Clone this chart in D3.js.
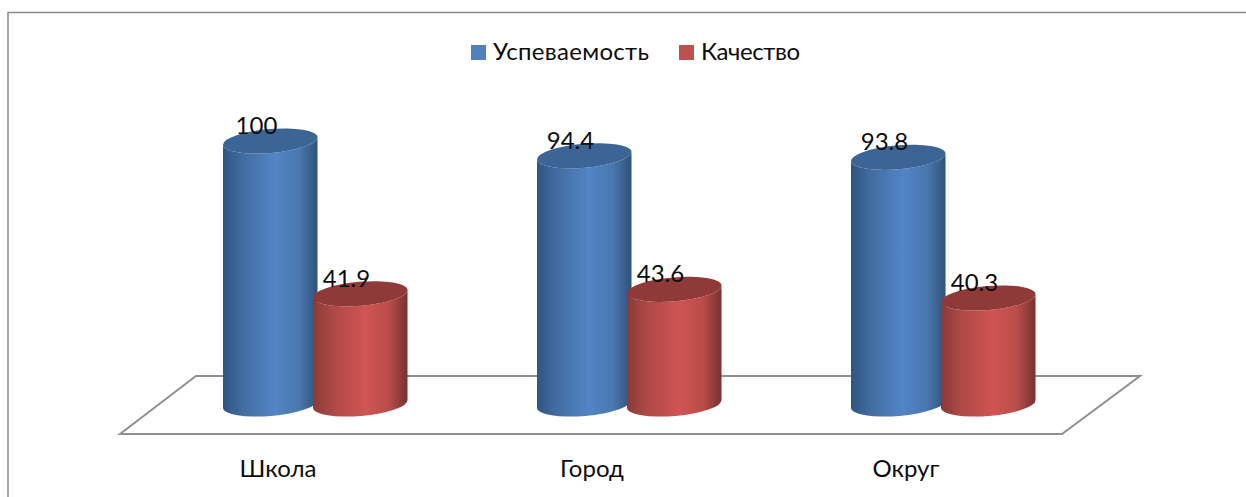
<!DOCTYPE html>
<html>
<head>
<meta charset="utf-8">
<script src="https://cdn.jsdelivr.net/npm/d3@7"></script>
<style>
  html, body { margin: 0; padding: 0; background: #fff; }
  svg { display: block; }
  text { font-family: Lato, "Open Sans", sans-serif; fill: #0c0c0c; }
</style>
</head>
<body>
<svg id="chart" width="1246" height="497"></svg>
<script>
const categories = ['Школа', 'Город', 'Округ'];
const seriesNames = ['Успеваемость', 'Качество'];
const uspevaemost = [100, 94.4, 93.8];
const kachestvo = [41.9, 43.6, 40.3];

const colors = [
  { legend: '#4f81bd', top: '#3a6595', stops: ['#2e5582', '#426c9f', '#5285c6', '#4a78ae', '#2f527c'] },
  { legend: '#c0504d', top: '#8f3a38', stops: ['#8a3a38', '#ac4846', '#d05452', '#ba4d4a', '#773230'] }
];
const stopOffsets = ['0%', '20%', '55%', '80%', '100%'];

const width = 1246;
const height = 497;
const svg = d3.select('#chart');

// horizontal shading of the cylinder walls
const defs = svg.append('defs');
colors.forEach((c, i) => {
  const grad = defs.append('linearGradient').attr('id', `wall${i}`);
  c.stops.forEach((col, k) => {
    grad.append('stop').attr('offset', stopOffsets[k]).attr('stop-color', col);
  });
});

// chart frame, runs off the right and bottom of the picture
svg.append('path')
  .attr('d', `M8,${height}V12.5H${width}`)
  .attr('fill', 'none')
  .attr('stroke', '#8a8a8a')
  .attr('stroke-width', 1.5);

// scales
const x = d3.scalePoint().domain(categories).range([223, 851]);
const xSeries = d3.scalePoint().domain(seriesNames).range([0, 90]);
const h = d3.scaleLinear().domain([0, 100]).range([0, 263]);
const baseY = 408; // left end of the bottom ellipse
const barW = 94.5;
const tilt = 8;
const rx = Math.hypot(barW, tilt) / 2;
const ry = 12;
const rot = -4.8;

// floor
const floor = d3.line();
svg.append('path')
  .attr('d', floor([[120, 434], [196, 376], [1140, 376], [1062, 434]]) + 'Z')
  .attr('fill', '#fff')
  .attr('stroke', '#8f8f8f')
  .attr('stroke-width', 2);

const rows = seriesNames.flatMap((name, s) =>
  categories.map((cat, i) => ({
    cat,
    name,
    s,
    value: (s === 0 ? uspevaemost : kachestvo)[i]
  }))
);

// blue first, the red cylinders overlap them
const bars = svg.selectAll('g.bar').data(rows).join('g').attr('class', 'bar');

const left = d => x(d.cat) + xSeries(d.name);
const topY = d => baseY - h(d.value);

bars.append('path')
  .attr('fill', d => `url(#wall${d.s})`)
  .attr('d', d => {
    const l = left(d), r = l + barW, t = topY(d);
    return `M${l},${t}L${l},${baseY}A${rx},${ry} ${rot} 0 0 ${r},${baseY - tilt}` +
      `L${r},${t - tilt}A${rx},${ry} ${rot} 0 1 ${l},${t}Z`;
  });

bars.append('path')
  .attr('fill', d => colors[d.s].top)
  .attr('d', d => {
    const l = left(d), r = l + barW, t = topY(d);
    return `M${l},${t}A${rx},${ry} ${rot} 0 1 ${r},${t - tilt}A${rx},${ry} ${rot} 0 1 ${l},${t}Z`;
  });

// value labels
svg.selectAll('text.value').data(rows).join('text')
  .attr('class', 'value')
  .attr('x', d => left(d) + 33.5)
  .attr('y', d => topY(d) - 11)
  .attr('text-anchor', 'middle')
  .attr('font-size', 24)
  .text(d => d.value);

// category labels
svg.selectAll('text.cat').data(categories).join('text')
  .attr('class', 'cat')
  .attr('x', d => x(d) + 55)
  .attr('y', 477)
  .attr('text-anchor', 'middle')
  .attr('font-size', 24)
  .text(d => d);

// legend
const legendX = d3.scaleOrdinal().domain(seriesNames).range([471, 679]);
const legend = svg.selectAll('g.legend').data(seriesNames).join('g')
  .attr('class', 'legend')
  .attr('transform', d => `translate(${legendX(d)},45)`);
legend.append('rect')
  .attr('width', 15)
  .attr('height', 15)
  .attr('fill', (d, i) => colors[i].legend);
legend.append('text')
  .attr('x', 22)
  .attr('y', 15)
  .attr('font-size', 24)
  .attr('textLength', (d, i) => [156, 99][i])
  .attr('lengthAdjust', 'spacing')
  .text(d => d);
</script>
</body>
</html>
